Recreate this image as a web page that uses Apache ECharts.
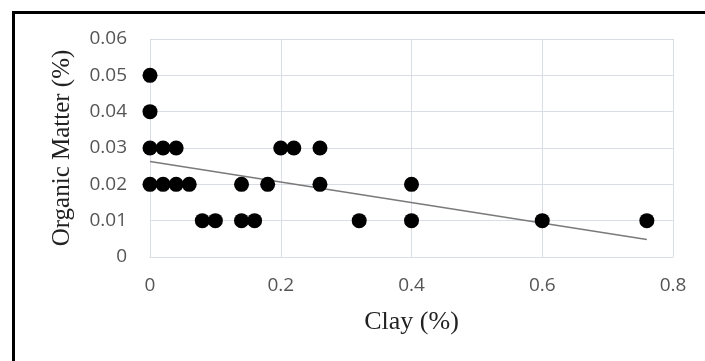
<!DOCTYPE html>
<html>
<head>
  <meta charset="UTF-8" />
  <script src="https://cdn.jsdelivr.net/npm/echarts@6/dist/echarts.min.js"></script>
  <style>
    body { margin: 0; background: #fff; }
    #frame {
      position: absolute; left: 12px; top: 11px; right: -5px; bottom: -5px;
      border-left: 3px solid #000; border-top: 3px solid #000;
    }
    #chart { position: absolute; left: 0; top: 0; width: 705px; height: 361px; }
  </style>
</head>
<body>
  <div id="frame"></div>
  <div id="chart"></div>
  <script>
    // clay (%) vs organic matter (%)
    const clay    = [0, 0, 0, 0.02, 0.04, 0.2, 0.22, 0.26,
                     0, 0.02, 0.04, 0.06, 0.14, 0.18, 0.26, 0.4,
                     0.08, 0.1, 0.14, 0.16, 0.32, 0.4, 0.6, 0.76];
    const organic = [0.05, 0.04, 0.03, 0.03, 0.03, 0.03, 0.03, 0.03,
                     0.02, 0.02, 0.02, 0.02, 0.02, 0.02, 0.02, 0.02,
                     0.01, 0.01, 0.01, 0.01, 0.01, 0.01, 0.01, 0.01];
    // linear trend line end points
    const trendX = [0, 0.76];
    const trendY = [0.0263, 0.0048];

    const points = clay.map((x, i) => [x, organic[i]]);
    const trend = trendX.map((x, i) => [x, trendY[i]]);

    const chart = echarts.init(document.getElementById('chart'));
    chart.setOption({
      animation: false,
      grid: { left: 150, right: 32, top: 39, bottom: 104 },
      xAxis: {
        type: 'value', min: 0, max: 0.8, interval: 0.2,
        name: 'Clay (%)', nameLocation: 'middle', nameGap: 52,
        nameTextStyle: { fontFamily: 'Liberation Serif', fontSize: 26, color: '#222' },
        axisLine: { lineStyle: { color: '#d9dde6' } },
        axisTick: { show: false },
        axisLabel: { fontFamily: 'Open Sans', fontSize: 19, color: '#555', margin: 19 },
        splitLine: { lineStyle: { color: '#d9dde6' } }
      },
      yAxis: {
        type: 'value', min: 0, max: 0.06, interval: 0.01,
        name: 'Organic Matter (%)', nameLocation: 'middle', nameGap: 75,
        nameTextStyle: { fontFamily: 'Liberation Serif', fontSize: 25, color: '#222' },
        axisLine: { show: false },
        axisTick: { show: false },
        axisLabel: { fontFamily: 'Open Sans', fontSize: 19, color: '#555', margin: 23 },
        splitLine: { lineStyle: { color: '#d9dde6' } }
      },
      series: [
        {
          type: 'line', data: trend, symbol: 'none',
          lineStyle: { color: '#7a7a7a', width: 1.5 }, z: 1
        },
        {
          type: 'scatter', data: points, symbolSize: 15,
          itemStyle: { color: '#000', opacity: 1 }, z: 2
        }
      ]
    });
  </script>
</body>
</html>
